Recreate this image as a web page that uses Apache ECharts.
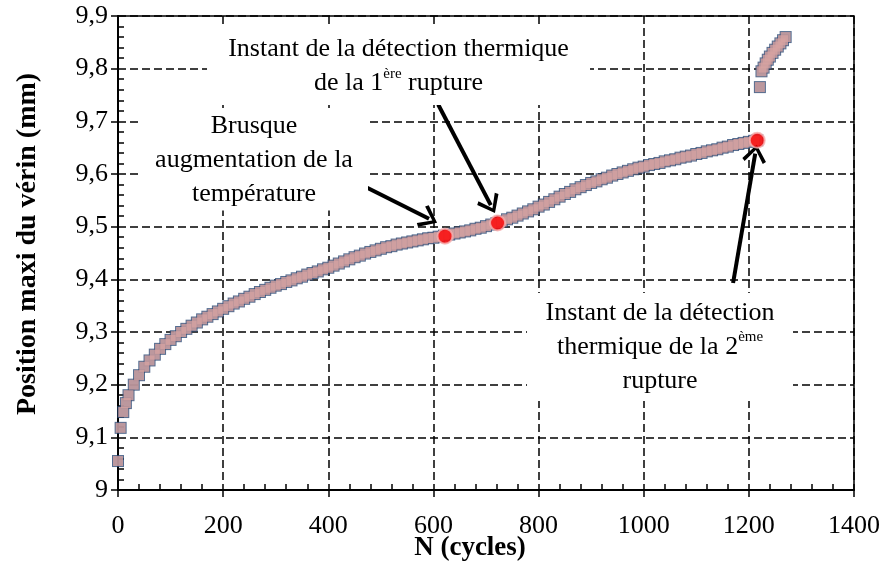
<!DOCTYPE html>
<html><head><meta charset="utf-8">
<script src="https://cdn.jsdelivr.net/npm/echarts@6/dist/echarts.min.js"></script>
<style>html,body{margin:0;padding:0;background:#fff}#c{width:882px;height:563px}</style>
</head><body><div id="c"></div>
<script>
// ---- data ----
const cyclesA = [0,5,10,15,20,30,40,50,60,70,80,90,100,110,120,130,140,150,160,170,180,190,
  200,210,220,230,240,250,260,270,280,290,300,310,320,330,340,350,360,370,380,390,
  400,410,420,430,440,450,460,470,480,490,500,510,520,530,540,550,560,570,580,590,
  600,610,620,630,640,650,660,670,680,690,700,710,720,730,740,750,760,770,780,790,
  800,810,820,830,840,850,860,870,880,890,900,910,920,930,940,950,960,970,980,990,
  1000,1010,1020,1030,1040,1050,1060,1070,1080,1090,1100,1110,1120,1130,1140,1150,1160,1170,1180,1190,
  1200,1210,1216];
const positionA = [9.055,9.118,9.148,9.165,9.180,9.200,9.218,9.234,9.246,9.257,9.268,9.277,9.285,9.292,9.300,9.306,9.312,9.318,9.324,9.329,9.334,9.339,
  9.344,9.349,9.354,9.358,9.363,9.367,9.372,9.376,9.380,9.384,9.388,9.391,9.395,9.398,9.402,9.405,9.409,9.412,9.415,9.419,
  9.422,9.426,9.430,9.434,9.438,9.442,9.445,9.449,9.452,9.455,9.458,9.461,9.463,9.466,9.468,9.470,9.472,9.474,9.476,9.478,
  9.479,9.481,9.483,9.485,9.487,9.489,9.491,9.493,9.496,9.498,9.501,9.504,9.507,9.510,9.514,9.517,9.521,9.525,9.529,9.533,
  9.538,9.542,9.547,9.552,9.557,9.562,9.566,9.571,9.575,9.579,9.583,9.586,9.590,9.593,9.597,9.600,9.603,9.606,9.609,9.612,
  9.614,9.617,9.619,9.621,9.624,9.626,9.628,9.631,9.633,9.635,9.638,9.640,9.643,9.645,9.647,9.650,9.652,9.655,9.657,9.659,
  9.661,9.663,9.664];
const cyclesB = [1221,1224,1228,1232,1236,1240,1245,1250,1255,1260,1265,1270];
const positionB = [9.765,9.795,9.802,9.810,9.817,9.823,9.830,9.836,9.842,9.848,9.854,9.860];
const eventCycles = [622, 722, 1216];
const eventPositions = [9.482, 9.507, 9.664];
const xTickLabels = ['0','200','400','600','800','1000','1200','1400'];
const yTickLabels = ['9','9,1','9,2','9,3','9,4','9,5','9,6','9,7','9,8','9,9'];
const xTitle = 'N (cycles)';
const yTitle = 'Position maxi du vérin (mm)';
const noteTexts = [
  'Instant de la détection thermique\nde la 1{sup|ère} rupture',
  'Brusque\naugmentation de la\ntempérature',
  'Instant de la détection\nthermique de la 2{sup|ème}\nrupture'
];
// annotation anchors (data units)
const noteCenters = [[533.6, 9.804], [258.7, 9.6265], [1031, 9.2715]];
const arrowStarts = [[474, 9.574], [609, 9.732], [1170, 9.393]];
const arrowEnds = [[591.6, 9.515], [709.1, 9.541], [1212.1, 9.6386]];

const FONT = '"Liberation Serif", "Times New Roman", serif';
const pts = cyclesA.map((c, i) => [c, positionA[i]]).concat(cyclesB.map((c, i) => [c, positionB[i]]));
const events = eventCycles.map((c, i) => [c, eventPositions[i]]);
const chevron = 'path://M12,0 L24,15 L21.2,17.6 L12,5.2 L2.8,17.6 L0,15 Z';
const boxSizes = [[383, 77], [228, 101], [266, 108]];

const chart = echarts.init(document.getElementById('c'), null, {renderer: 'canvas'});
chart.setOption({
  animation: false,
  backgroundColor: '#fff',
  grid: {left: 118, right: 28, top: 16, bottom: 73, containLabel: false, outerBoundsMode: 'none',
    show: true, borderColor: '#000', borderWidth: 1.5, backgroundColor: 'transparent'},
  xAxis: {
    type: 'value', min: 0, max: 1400, interval: 200,
    name: xTitle, nameLocation: 'middle', nameGap: 45, nameMoveOverlap: false,
    nameTextStyle: {fontFamily: FONT, fontSize: 27, fontWeight: 'bold', color: '#000', padding: [0, 32, 0, 0]},
    axisLine: {show: true, onZero: false, lineStyle: {color: '#000', width: 2}},
    axisTick: {show: true, length: 7, lineStyle: {color: '#000', width: 1.5}},
    minorTick: {show: true, splitNumber: 5, length: -6, lineStyle: {color: '#000', width: 1.5}},
    axisLabel: {fontFamily: FONT, fontSize: 26, color: '#000', margin: 23,
      formatter: v => xTickLabels[Math.round(v / 200)]},
    splitLine: {show: true, lineStyle: {color: '#000', width: 1.5, type: [8, 4]}}
  },
  yAxis: {
    type: 'value', min: 9, max: 9.9, interval: 0.1,
    name: yTitle, nameLocation: 'middle', nameGap: 76, nameRotate: 90, nameMoveOverlap: false,
    nameTextStyle: {fontFamily: FONT, fontSize: 28, fontWeight: 'bold', color: '#000', padding: [0, 0, 0, 18]},
    axisLine: {show: true, onZero: false, lineStyle: {color: '#000', width: 2}},
    axisTick: {show: true, length: 7, lineStyle: {color: '#000', width: 1.5}},
    minorTick: {show: true, splitNumber: 5, length: -6, lineStyle: {color: '#000', width: 1.5}},
    axisLabel: {fontFamily: FONT, fontSize: 26, color: '#000', margin: 10,
      formatter: v => yTickLabels[Math.round((v - 9) * 10)]},
    splitLine: {show: true, lineStyle: {color: '#000', width: 1.5, type: [8, 4]}}
  },
  series: [
    {type: 'scatter', data: pts, symbol: 'rect', symbolSize: 12, silent: true,
      itemStyle: {color: '#2b4874'}, z: 2},
    {type: 'scatter', data: pts, symbol: 'rect', symbolSize: 10, silent: true,
      itemStyle: {color: '#d6a3a1'}, z: 3},
    {type: 'scatter', data: events, symbol: 'circle', symbolSize: 15, silent: true, z: 5,
      itemStyle: {color: '#ff0000', borderColor: '#f5b0b0', borderWidth: 2},
      markLine: {
        silent: true, animation: false,
        symbol: ['none', chevron], symbolSize: [24, 18],
        label: {show: false},
        lineStyle: {color: '#000', width: 4, type: 'solid'},
        data: arrowStarts.map((s, i) => [{coord: s}, {coord: arrowEnds[i]}])
      },
      markPoint: {
        silent: true, animation: false,
        symbol: 'rect',
        itemStyle: {color: '#fff'},
        label: {show: true, position: 'inside', fontFamily: FONT, fontSize: 26, color: '#000',
          lineHeight: 34, align: 'center',
          rich: {sup: {fontFamily: FONT, fontSize: 15, verticalAlign: 'top', lineHeight: 34, color: '#000'}}},
        data: noteCenters.map((c, i) => ({coord: c, symbolSize: boxSizes[i], value: 0,
          label: {formatter: noteTexts[i]}}))
      }
    }
  ]
});
</script></body></html>
